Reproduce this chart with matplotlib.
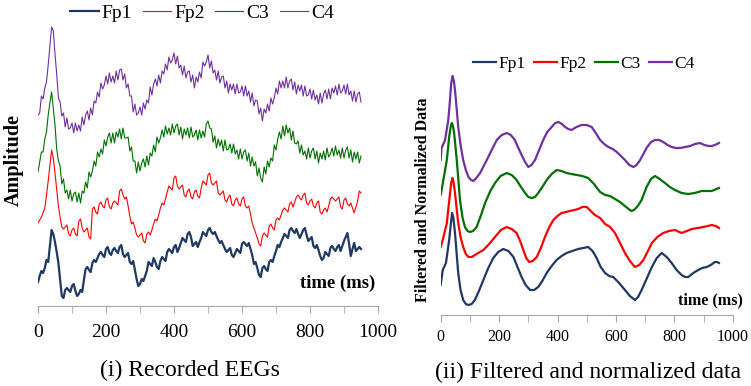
import numpy as np
import matplotlib.pyplot as plt

W, H = 751, 386

# ---- (i) recorded EEGs, read every 5 ms ----
t_rec = np.arange(0, 951, 5)

fp1_rec = [24, 30, 35, 33, 38, 46, 44, 60, 76, 72, 64, 54, 43, 27, 10, 8, 16, 18, 16, 14,
           20, 22, 15, 10, 12, 16, 14, 26, 37, 39, 36, 34, 43, 46, 44, 48, 52, 54, 51, 49,
           57, 59, 53, 51, 56, 58, 55, 53, 59, 61, 52, 49, 51, 53, 44, 42, 45, 36, 27, 20,
           22, 27, 25, 30, 35, 44, 42, 40, 48, 44, 39, 37, 45, 49, 47, 45, 54, 57, 55, 53,
           59, 61, 54, 58, 63, 68, 66, 64, 72, 74, 69, 60, 62, 64, 59, 64, 68, 74, 72, 70,
           76, 78, 74, 72, 74, 70, 66, 63, 65, 61, 57, 54, 56, 58, 51, 49, 53, 57, 55, 53,
           62, 64, 62, 60, 63, 57, 51, 42, 44, 38, 31, 29, 38, 40, 37, 35, 44, 46, 44, 50,
           55, 61, 59, 64, 68, 72, 70, 68, 76, 78, 75, 73, 77, 72, 68, 72, 76, 78, 71, 65,
           67, 69, 60, 58, 61, 56, 50, 46, 48, 54, 52, 50, 58, 60, 57, 55, 59, 61, 55, 60,
           65, 69, 73, 62, 50, 57, 63, 55, 57, 59, 57]

fp2_rec = [83, 86, 89, 93, 98, 111, 125, 141, 156, 148, 133, 117, 100, 89, 79, 77, 79, 81, 72, 70,
           76, 78, 72, 70, 85, 87, 78, 74, 76, 78, 69, 67, 97, 99, 94, 92, 102, 104, 100, 98,
           106, 108, 99, 97, 103, 105, 103, 101, 115, 117, 111, 107, 109, 100, 90, 82, 84, 78, 71, 69,
           71, 73, 65, 63, 72, 74, 71, 76, 82, 87, 85, 91, 98, 103, 101, 107, 114, 120, 118, 116,
           128, 130, 120, 117, 119, 121, 111, 109, 115, 117, 109, 107, 114, 116, 110, 108, 118, 125, 123, 121,
           131, 133, 123, 121, 123, 125, 113, 111, 113, 115, 106, 104, 109, 111, 102, 100, 106, 108, 102, 100,
           107, 109, 100, 98, 100, 92, 83, 78, 73, 68, 62, 60, 70, 73, 71, 69, 80, 82, 78, 76,
           86, 88, 86, 91, 96, 98, 96, 94, 102, 104, 99, 104, 109, 111, 108, 106, 111, 113, 103, 101,
           105, 107, 100, 98, 103, 105, 94, 92, 96, 98, 94, 100, 107, 109, 107, 105, 107, 109, 99, 97,
           106, 108, 102, 100, 103, 98, 93, 99, 105, 115, 113]

c3_rec = [134, 144, 154, 154, 167, 174, 191, 203, 214, 197,
          181, 157, 145, 140, 122, 127, 113, 116, 107, 116,
          105, 112, 114, 104, 113, 103, 115, 113, 124, 118,
          134, 129, 135, 145, 140, 154, 149, 157, 152, 166,
          160, 169, 173, 163, 173, 163, 174, 169, 177, 167,
          178, 168, 168, 169, 155, 159, 145, 145, 133, 144,
          135, 143, 147, 139, 150, 141, 153, 150, 161, 154,
          169, 163, 168, 176, 169, 180, 172, 178, 171, 182,
          173, 180, 182, 171, 179, 167, 177, 171, 178, 168,
          179, 169, 171, 176, 166, 176, 168, 175, 169, 182,
          185, 178, 177, 164, 170, 158, 167, 160, 166, 155,
          166, 156, 157, 162, 153, 162, 152, 156, 147, 157,
          147, 154, 156, 145, 153, 140, 149, 140, 144, 130,
          138, 128, 124, 139, 132, 145, 139, 148, 145, 161,
          156, 167, 174, 167, 180, 170, 181, 173, 178, 166,
          175, 163, 162, 165, 153, 161, 151, 155, 147, 158,
          148, 155, 158, 147, 155, 143, 153, 147, 155, 146,
          158, 149, 152, 158, 150, 160, 151, 156, 148, 158,
          148, 156, 159, 148, 156, 144, 154, 147, 154, 143,
          150]

c4_rec = [191, 193, 210, 207, 218, 224, 241, 260, 279, 275,
          252, 232, 208, 204, 190, 193, 179, 188, 177, 178,
          183, 173, 183, 175, 181, 175, 189, 181, 191, 195,
          186, 198, 191, 205, 203, 214, 209, 223, 217, 221,
          230, 222, 233, 224, 230, 223, 235, 226, 236, 237,
          226, 232, 218, 222, 210, 210, 194, 202, 191, 193,
          199, 191, 203, 197, 206, 203, 219, 211, 222, 227,
          220, 231, 223, 235, 232, 242, 236, 249, 243, 246,
          253, 242, 250, 238, 241, 231, 240, 228, 234, 235,
          224, 231, 218, 229, 224, 234, 228, 244, 240, 244,
          251, 238, 245, 233, 236, 226, 235, 223, 229, 230,
          218, 225, 213, 222, 216, 222, 212, 222, 213, 214,
          220, 210, 220, 210, 215, 204, 213, 200, 206, 205,
          192, 198, 185, 197, 193, 202, 195, 208, 202, 208,
          218, 212, 225, 218, 225, 218, 229, 218, 225, 227,
          216, 224, 212, 221, 215, 221, 210, 220, 210, 211,
          217, 207, 216, 206, 211, 202, 213, 203, 212, 216,
          207, 217, 207, 218, 213, 220, 211, 222, 213, 215,
          221, 212, 222, 211, 215, 205, 215, 204, 212, 214,
          204]

# ---- (ii) filtered and normalized ----
t_fp1_f = [0, 7, 18, 29, 35, 39, 43, 49, 55, 60, 68, 77, 86, 95, 106, 117, 131, 146, 163,
           180, 197, 214, 232, 249, 263, 277, 291, 306, 320, 334, 348, 363, 380, 397, 414,
           431, 451, 471, 488, 505, 520, 534, 548, 563, 577, 591, 611, 631, 648, 665, 676,
           688, 705, 723, 740, 757, 774, 791, 808, 825, 837, 848, 865, 882, 896, 911, 925,
           939, 947, 953]
fp1_f = [30, 45, 52, 75, 92, 102, 98, 82, 60, 42, 25, 15, 11, 10, 11, 15, 24, 35, 47,
         57, 63, 66, 64, 58, 48, 38, 30, 25, 25, 28, 34, 42, 49, 55, 59,
         62, 64, 66, 67, 68, 64, 57, 48, 42, 39, 38, 32, 25, 19, 15, 18,
         25, 36, 48, 57, 62, 58, 52, 45, 40, 38, 38, 42, 45, 47, 48, 50,
         53, 53, 52]

t_fp2_f = [0, 7, 21, 32, 36, 40, 44, 49, 60, 68, 77, 86, 95, 106, 117, 146, 166, 186,
           206, 226, 243, 260, 272, 283, 293, 303, 315, 329, 343, 357, 372, 386, 400, 414,
           443, 471, 485, 500, 514, 528, 546, 563, 580, 597, 614, 631, 648, 665, 680, 694,
           708, 723, 742, 762, 782, 802, 825, 843, 860, 880, 899, 915, 928, 942, 953]
fp2_f = [68, 75, 92, 122, 132, 137, 133, 122, 92, 78, 68, 61, 58, 58, 60, 65, 71, 78,
         85, 88, 86, 82, 74, 65, 57, 53, 54, 58, 67, 78, 88, 95, 99, 102,
         104, 106, 108, 108, 104, 100, 97, 91, 88, 82, 72, 62, 54, 48, 50, 55,
         63, 72, 78, 82, 84, 85, 82, 84, 86, 87, 88, 89, 90, 89, 87]

t_c3_f = [0, 9, 21, 29, 34, 38, 42, 46, 55, 66, 75, 83, 92, 100, 111, 123, 137, 152, 170,
          186, 205, 226, 243, 260, 275, 289, 300, 312, 323, 334, 348, 363, 380, 397, 414,
          431, 448, 466, 485, 505, 525, 546, 563, 580, 597, 614, 635, 648, 654, 662, 675,
          688, 705, 720, 734, 750, 768, 785, 802, 825, 848, 870, 894, 912, 928, 953]
c3_f = [120, 135, 155, 178, 188, 192, 189, 182, 155, 115, 97, 88, 84, 83, 84, 88, 99, 112, 124,
        132, 139, 142, 140, 135, 128, 122, 118, 117, 118, 122, 128, 135, 141, 145, 144,
        142, 141, 140, 139, 137, 131, 123, 120, 119, 116, 113, 108, 105, 104, 105, 109,
        115, 128, 136, 139, 136, 132, 128, 125, 122, 121, 122, 124, 124, 124, 127]

t_c4_f = [0, 3, 15, 26, 31, 36, 41, 45, 49, 55, 60, 68, 77, 86, 95, 104, 112, 122, 135,
          149, 163, 178, 192, 209, 226, 240, 254, 266, 277, 289, 300, 311, 323, 337, 351,
          365, 380, 392, 403, 415, 426, 437, 448, 465, 482, 500, 517, 531, 546, 560, 574,
          589, 603, 617, 631, 646, 660, 671, 683, 694, 705, 720, 734, 748, 762, 777, 791,
          805, 820, 837, 854, 871, 888, 903, 917, 928, 939, 953]
c4_f = [155, 167, 175, 195, 212, 232, 239, 234, 225, 205, 188, 170, 155, 145, 138, 135, 134, 137, 142,
        150, 158, 167, 175, 180, 182, 180, 175, 167, 160, 153, 148, 150, 155, 165, 175,
        183, 188, 192, 193, 191, 188, 186, 185, 188, 190, 190, 188, 182, 175, 171, 168,
        166, 163, 159, 155, 150, 148, 150, 155, 161, 167, 173, 175, 175, 173, 170, 168,
        167, 167, 168, 169, 171, 172, 170, 169, 169, 170, 172]

names = ['Fp1', 'Fp2', 'C3', 'C4']
colors = ['#1f3864', '#ff0000', '#007000', '#7030a0']

plt.rcParams['font.family'] = 'Liberation Serif'
fig = plt.figure(figsize=(W / 100, H / 100), dpi=100)


def fx(x):
    return x / W


def fy(y):
    return 1 - y / H


def style(ax, size, pad):
    for s in ['left', 'top', 'right']:
        ax.spines[s].set_visible(False)
    ax.spines['bottom'].set_color('#a6a6a6')
    ax.set_yticks([])
    ax.set_xlim(0, 1000)
    ax.set_xticks(range(0, 1001, 200))
    ax.set_xticks(range(0, 1001, 100), minor=True)
    ax.tick_params(axis='x', which='both', direction='out', length=5,
                   color='#a6a6a6', labelsize=size, pad=pad)


# left panel
ax1 = fig.add_axes([fx(38), fy(306), 340 / W, 306 / H])
rec = [fp1_rec, fp2_rec, c3_rec, c4_rec]
widths = [1.6, 0.8, 0.8, 0.8]
for vals, name, c, lw in zip(rec, names, colors, widths):
    ax1.plot(t_rec, vals, color=c, lw=lw, label=name)
ax1.set_ylim(0, 306)
style(ax1, 14, 8)
h, l = ax1.get_legend_handles_labels()
fig.legend(h, l, loc='center', bbox_to_anchor=(fx(202), fy(13)), ncol=4, frameon=False,
           fontsize=14, handlelength=1.45, handletextpad=0.15, columnspacing=0.55)

# right panel
ax2 = fig.add_axes([fx(440.7), fy(315), 292 / W, 275 / H])
filt_t = [t_fp1_f, t_fp2_f, t_c3_f, t_c4_f]
filt = [fp1_f, fp2_f, c3_f, c4_f]
for tt, vals, name, c in zip(filt_t, filt, names, colors):
    ax2.plot(tt, vals, color=c, lw=1.6, label=name, solid_joinstyle='round')
ax2.set_ylim(0, 275)
style(ax2, 11.5, 5)
h, l = ax2.get_legend_handles_labels()
fig.legend(h, l, loc='center', bbox_to_anchor=(fx(584), fy(64)), ncol=4, frameon=False,
           fontsize=12.5, handlelength=1.3, handletextpad=0.15, columnspacing=0.5)

# labels
fig.text(fx(14), fy(160), 'Amplitude', rotation=90, fontweight='bold', fontsize=14.5,
         ha='center', va='center')
fig.text(fx(375), fy(283), 'time (ms)', fontweight='bold', fontsize=13.4, ha='right', va='center')
fig.text(fx(190), fy(370), '(i) Recorded EEGs', fontsize=17, ha='center', va='center')

fig.text(fx(423), fy(200), 'Filtered and Normalized Data', rotation=90, fontweight='bold',
         fontsize=11.5, ha='center', va='center')
fig.text(fx(743), fy(300), 'time (ms)', fontweight='bold', fontsize=11.6, ha='right', va='center')
fig.text(fx(588), fy(372), '(ii) Filtered and normalized data', fontsize=17, ha='center', va='center')

fig.savefig('out.png', dpi=100)
